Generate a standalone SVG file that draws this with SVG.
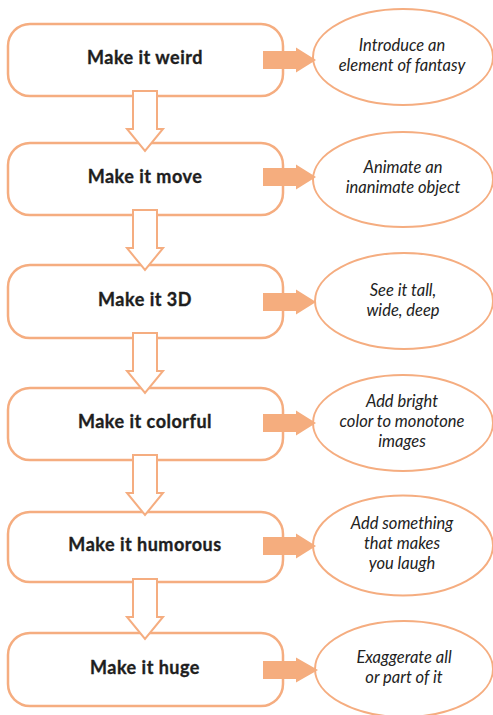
<svg xmlns="http://www.w3.org/2000/svg" width="493" height="715" viewBox="0 0 493 715">
<style>
.box{fill:#fff;stroke:#F5AD80;stroke-width:2.5}
.ell{fill:#fff;stroke:#F5AD80;stroke-width:2}
.down{fill:#fff;stroke:#F5AD80;stroke-width:2;stroke-linejoin:miter}
.right{fill:#F5AD7E;stroke:none}
.t{font-family:Lato,"Open Sans","Liberation Sans",sans-serif;font-weight:bold;font-size:18px;letter-spacing:0.5px;fill:#1e1e1e;stroke:#1e1e1e;stroke-width:0.35;text-anchor:middle}
.e{font-family:Lato,"Open Sans","Liberation Sans",sans-serif;font-style:italic;font-size:16.5px;fill:#222;text-anchor:middle}
</style>
<rect width="493" height="715" fill="#fff"/>
<g id="n1"><rect class="box" x="8" y="24" width="275" height="72" rx="22"/><text class="t" x="145" y="64">Make it weird</text></g>
<g id="n2"><rect class="box" x="8" y="143" width="275" height="72" rx="22"/><text class="t" x="145" y="183">Make it move</text></g>
<g id="n3"><rect class="box" x="8" y="265" width="275" height="73" rx="22"/><text class="t" x="145" y="306">Make it 3D</text></g>
<g id="n4"><rect class="box" x="8" y="388" width="275" height="72" rx="22"/><text class="t" x="145" y="428">Make it colorful</text></g>
<g id="n5"><rect class="box" x="8" y="512" width="275" height="70" rx="22"/><text class="t" x="145" y="551">Make it humorous</text></g>
<g id="n6"><rect class="box" x="8" y="633" width="275" height="73" rx="22"/><text class="t" x="145" y="674">Make it huge</text></g>
<g id="e1"><ellipse class="ell" cx="403" cy="57" rx="90" ry="48"/><text class="e" x="402" y="51">Introduce an</text><text class="e" x="402" y="71">element of fantasy</text></g>
<g id="e2"><ellipse class="ell" cx="403" cy="179.5" rx="90" ry="47.5"/><text class="e" x="403" y="173">Animate an</text><text class="e" x="403" y="193">inanimate object</text></g>
<g id="e3"><ellipse class="ell" cx="404" cy="301" rx="89" ry="48"/><text class="e" x="403" y="296">See it tall,</text><text class="e" x="403" y="316">wide, deep</text></g>
<g id="e4"><ellipse class="ell" cx="403" cy="423" rx="90" ry="48"/><text class="e" x="402" y="407">Add bright</text><text class="e" x="402" y="427">color to monotone</text><text class="e" x="402" y="447">images</text></g>
<g id="e5"><ellipse class="ell" cx="403" cy="545.5" rx="90" ry="50"/><text class="e" x="402" y="529">Add something</text><text class="e" x="402" y="549">that makes</text><text class="e" x="402" y="569">you laugh</text></g>
<g id="e6"><ellipse class="ell" cx="404" cy="669" rx="89" ry="48"/><text class="e" x="404" y="663">Exaggerate all</text><text class="e" x="404" y="683">or part of it</text></g>
<g id="connectors">
<path class="right" d="M263 51H296V47.5L316 60L296 72.5V69H263Z"/>
<path class="right" d="M263 168H296V164.5L316 177L296 189.5V186H263Z"/>
<path class="right" d="M263 293H296V289.5L316 302L296 314.5V311H263Z"/>
<path class="right" d="M263 414H296V410.5L316 423L296 435.5V432H263Z"/>
<path class="right" d="M263 537H296V533.5L316 546L296 558.5V555H263Z"/>
<path class="right" d="M263 661H296V657.5L318 670L296 682.5V679H263Z"/>
<path class="down" d="M133 91V129H127L145 151L163 129H157V91Z"/>
<path class="down" d="M133 210V248H127L145 270L163 248H157V210Z"/>
<path class="down" d="M133 333V371H127L145 393L163 371H157V333Z"/>
<path class="down" d="M133 455V493H127L145 515L163 493H157V455Z"/>
<path class="down" d="M133 579V617H127L145 639L163 617H157V579Z"/>
</g>
</svg>
